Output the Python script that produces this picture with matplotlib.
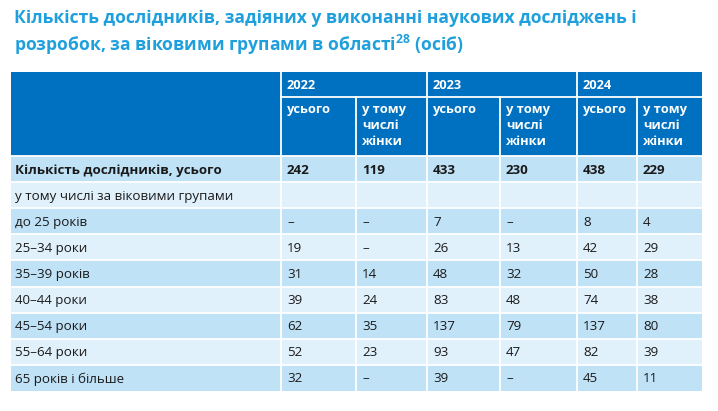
import matplotlib
matplotlib.use('Agg')
import matplotlib.pyplot as plt
from matplotlib.patches import Rectangle

plt.rcParams['font.family'] = ['Open Sans', 'DejaVu Sans']

title = ('Кількість дослідників, задіяних у виконанні наукових досліджень і\n'
         'розробок, за віковими групами в області$^{\\mathregular{28}}$ (осіб)')
years = ['2022', '2023', '2024']
subheads = ['усього', 'у тому\nчислі\nжінки']
row_labels = ['Кількість дослідників, усього', 'у тому числі за віковими групами',
              'до 25 років', '25–34 роки', '35–39 років', '40–44 роки',
              '45–54 роки', '55–64 роки', '65 років і більше']
values = [
    ['242', '119', '433', '230', '438', '229'],
    ['', '', '', '', '', ''],
    ['–', '–', '7', '–', '8', '4'],
    ['19', '–', '26', '13', '42', '29'],
    ['31', '14', '48', '32', '50', '28'],
    ['39', '24', '83', '48', '74', '38'],
    ['62', '35', '137', '79', '137', '80'],
    ['52', '23', '93', '47', '82', '39'],
    ['32', '–', '39', '–', '45', '11'],
]

# layout in pixels
col_x = [11, 281, 356, 427, 500, 577, 637, 702]
head_top, year_bot, head_bot = 72, 97, 156
row_h = 26.1

blue = '#0070c0'
light = '#e1f1fc'
mid = '#c0e2f7'
title_col = '#1fa0dc'

fig = plt.figure(figsize=(7.18, 4.11), dpi=100)
ax = fig.add_axes([0, 0, 1, 1])
ax.set_xlim(0, 718)
ax.set_ylim(411, 0)
ax.axis('off')

ax.text(14, 9, title, color=title_col, fontsize=12.6, fontweight='bold',
        va='top', ha='left', linespacing=1.3)

# header
ax.add_patch(Rectangle((col_x[0], head_top), col_x[-1] - col_x[0], head_bot - head_top,
                       color=blue, lw=0))
for i, y in enumerate(years):
    x0 = col_x[1 + 2 * i]
    ax.text(x0 + 6, (head_top + year_bot) / 2 + 1, y, color='white', fontsize=9.3,
            fontweight='bold', va='center', ha='left')
    for j, s in enumerate(subheads):
        ax.text(col_x[1 + 2 * i + j] + 6, year_bot + 6, s, color='white', fontsize=9.3,
                fontweight='bold', va='top', ha='left', linespacing=1.3)
lw = 1.3
ax.plot([col_x[1], col_x[-1]], [year_bot, year_bot], color='white', lw=lw)
for k, x in enumerate(col_x[1:-1]):
    top = head_top if k % 2 == 0 else year_bot
    ax.plot([x, x], [top, head_bot], color='white', lw=lw)

# body
for r, lab in enumerate(row_labels):
    y0 = head_bot + r * row_h
    fc = mid if r % 2 == 0 else light
    ax.add_patch(Rectangle((col_x[0], y0), col_x[-1] - col_x[0], row_h, color=fc, lw=0))
    bold = 'bold' if r == 0 else 'normal'
    ax.text(col_x[0] + 4, y0 + row_h / 2 + 1, lab, fontsize=9.6, fontweight=bold,
            color='#1a1a1a', va='center', ha='left')
    for c, v in enumerate(values[r]):
        ax.text(col_x[1 + c] + 6, y0 + row_h / 2 + 1, v, fontsize=9.6, fontweight=bold,
                color='#1a1a1a', va='center', ha='left')
    ax.plot([col_x[0], col_x[-1]], [y0, y0], color='white', lw=lw)
for x in col_x[1:-1]:
    ax.plot([x, x], [head_bot, head_bot + len(row_labels) * row_h], color='white', lw=lw)

fig.savefig('out.png', dpi=100, facecolor='white')
